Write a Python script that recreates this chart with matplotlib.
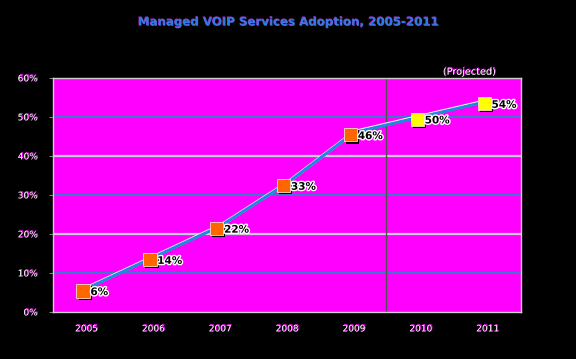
import matplotlib
matplotlib.use("Agg")
import matplotlib.pyplot as plt
import matplotlib.patheffects as pe

# данные
years = ["2005", "2006", "2007", "2008", "2009", "2010", "2011"]
adoption = [6, 14, 22, 33, 46, 50, 54]
projected = [False, False, False, False, False, True, True]
y_ticks = [0, 10, 20, 30, 40, 50, 60]

fig = plt.figure(figsize=(5.76, 3.59), dpi=100, facecolor="black")
ax = fig.add_axes([0.092, 0.131, 0.8125, 0.652])
ax.set_facecolor("#FF00FF")

x = list(range(len(years)))
ax.set_xlim(-0.5, len(years) - 0.5)
ax.set_ylim(0, 60)

# сетка: чередуются голубые и светлые линии
for v in y_ticks[1:-1]:
    col = "#1890c8" if v in (10, 30, 50) else "#c8d0e0"
    lw = 1.2 if v in (10, 30, 50) else 1.6
    ax.axhline(v, color=col, linewidth=lw, zorder=1)

# граница прогноза
ax.axvline(4.48, color="#505050", linewidth=1.0, zorder=2)

# линия
ax.plot(x, adoption, color="#1f8ad8", linewidth=2.2, zorder=3,
        path_effects=[pe.Stroke(linewidth=2.4, foreground="white", offset=(0.5, 0.7)), pe.Normal()])

shadow = [pe.SimplePatchShadow(offset=(1.5, -1.5), shadow_rgbFace="black", alpha=1.0), pe.Normal()]
text_fx = [pe.withStroke(linewidth=2, foreground="white")]
for xi, v, p in zip(x, adoption, projected):
    ax.plot(xi - 0.05, v - 0.6, marker="s", markersize=9.5,
            markerfacecolor="#FFFF00" if p else "#FF6600",
            markeredgecolor="#ffe0c0", markeredgewidth=0.6,
            linestyle="none", zorder=4, path_effects=shadow)
    ax.text(xi + 0.06, v - 0.9, f"{v}%", fontsize=7.5, fontweight="bold",
            color="black", va="center", ha="left", zorder=5, path_effects=text_fx)

label_fx = [pe.withSimplePatchShadow(offset=(0.6, 0.6), shadow_rgbFace="#FF00FF", alpha=1.0)]
ax.set_xticks(x)
ax.set_xticklabels(years)
ax.set_yticks(y_ticks)
ax.set_yticklabels([f"{v}%" for v in y_ticks])
for lab in ax.get_xticklabels() + ax.get_yticklabels():
    lab.set_color("white")
    lab.set_fontsize(6.5)
    lab.set_path_effects(label_fx)
ax.tick_params(axis="x", length=0, pad=9)
ax.tick_params(axis="y", length=3, color="#808080", pad=8)

for s in ax.spines.values():
    s.set_color("#d0d0d0")
    s.set_linewidth(1.0)

fig.text(0.5, 0.938, "Managed VOIP Services Adoption, 2005-2011", ha="center", va="center",
         fontsize=8.5, fontweight="bold", color="#2f7be0",
         path_effects=[pe.withSimplePatchShadow(offset=(-0.5, 0.5), shadow_rgbFace="#c040ff", alpha=0.8)])
fig.text(0.815, 0.80, "(Projected)", ha="center", va="center", fontsize=7, color="white",
         path_effects=label_fx)

fig.savefig("out.png", dpi=100, facecolor="black")
